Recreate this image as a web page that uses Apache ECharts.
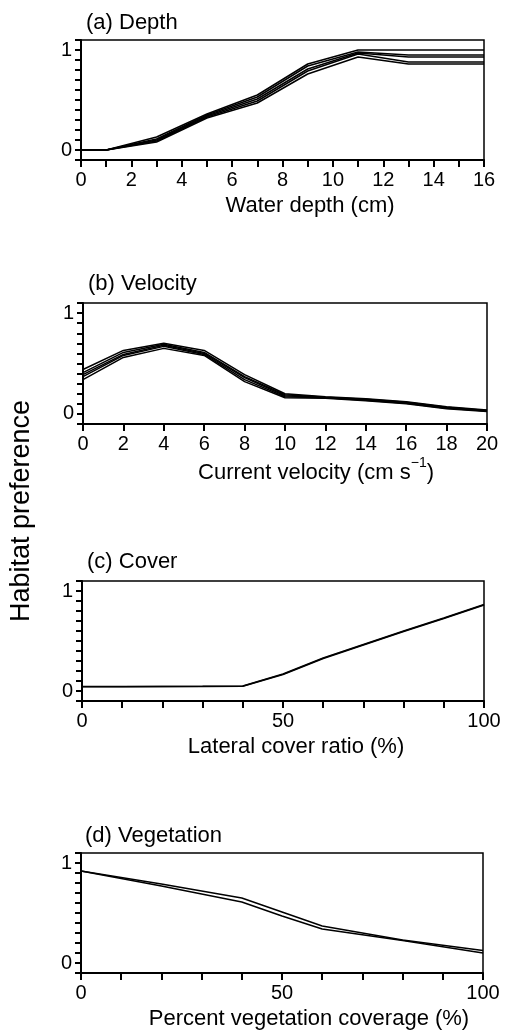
<!DOCTYPE html>
<html>
<head>
<meta charset="utf-8">
<script src="https://cdn.jsdelivr.net/npm/echarts@6/dist/echarts.min.js"></script>
<style>
html,body{margin:0;padding:0;background:#fff;}
#chart{width:505px;height:1032px;}
</style>
</head>
<body>
<div id="chart"></div>
<script>
// ---- Data ----
const depthX = [0, 1, 3, 5, 7, 9, 11, 13, 16];
const depthCurves = [
  [0, 0, 0.13, 0.36, 0.55, 0.86, 1.00, 1.00, 1.00],
  [0, 0, 0.11, 0.35, 0.53, 0.84, 0.98, 0.95, 0.95],
  [0, 0, 0.10, 0.34, 0.51, 0.81, 0.97, 0.93, 0.93],
  [0, 0, 0.09, 0.33, 0.49, 0.79, 0.96, 0.88, 0.88],
  [0, 0, 0.08, 0.32, 0.47, 0.76, 0.93, 0.86, 0.86]
];
const velocityX = [0, 2, 4, 6, 8, 10, 12, 14, 16, 18, 20];
const velocityCurves = [
  [0.44, 0.63, 0.70, 0.63, 0.39, 0.20, 0.17, 0.15, 0.12, 0.07, 0.040],
  [0.41, 0.61, 0.69, 0.61, 0.37, 0.19, 0.165, 0.145, 0.115, 0.065, 0.035],
  [0.39, 0.59, 0.68, 0.60, 0.36, 0.18, 0.16, 0.14, 0.11, 0.06, 0.030],
  [0.37, 0.58, 0.67, 0.59, 0.34, 0.17, 0.16, 0.135, 0.105, 0.055, 0.030],
  [0.34, 0.56, 0.65, 0.58, 0.32, 0.16, 0.155, 0.13, 0.10, 0.05, 0.025]
];
const coverX = [0, 10, 20, 30, 40, 50, 60, 70, 80, 90, 100];
const coverCurves = [
  [0.045, 0.045, 0.046, 0.047, 0.05, 0.17, 0.33, 0.465, 0.60, 0.73, 0.865],
  [0.043, 0.043, 0.044, 0.046, 0.048, 0.165, 0.325, 0.46, 0.595, 0.725, 0.86]
];
const vegX = [0, 20, 40, 50, 60, 80, 100];
const vegCurves = [
  [0.92, 0.79, 0.65, 0.51, 0.37, 0.23, 0.125],
  [0.92, 0.77, 0.61, 0.47, 0.34, 0.225, 0.10]
];
const panelTitles = ['(a) Depth', '(b) Velocity', '(c) Cover', '(d) Vegetation'];
const xNames = ['Water depth (cm)', 'Current velocity (cm s', 'Lateral cover ratio (%)', 'Percent vegetation coverage (%)'];
const yName = 'Habitat preference';

// ---- Chart ----
const FONT = 'Liberation Sans, Arial, Helvetica, sans-serif';
const chart = echarts.init(document.getElementById('chart'), null, {renderer: 'canvas'});

const grids = [
  {left: 81, top: 40, width: 403, height: 120},
  {left: 83, top: 303, width: 404, height: 121},
  {left: 82, top: 581, width: 402, height: 120},
  {left: 81, top: 853, width: 402, height: 120}
].map(g => Object.assign({show: true, borderColor: '#000', borderWidth: 1.5, backgroundColor: 'transparent'}, g));

const xSpecs = [
  {min: 0, max: 16, interval: 1, fmt: v => (Math.round(v) % 2 === 0 ? String(Math.round(v)) : '')},
  {min: 0, max: 20, interval: 2, fmt: v => String(Math.round(v))},
  {min: 0, max: 100, interval: 10, fmt: v => ([0, 50, 100].includes(Math.round(v)) ? String(Math.round(v)) : '')},
  {min: 0, max: 100, interval: 10, fmt: v => ([0, 50, 100].includes(Math.round(v)) ? String(Math.round(v)) : '')}
];

const xAxes = xSpecs.map((s, i) => ({
  type: 'value', gridIndex: i, min: s.min, max: s.max, interval: s.interval,
  axisLine: {show: true, onZero: false, lineStyle: {color: '#000', width: 2}},
  axisTick: {show: true, inside: false, length: 7, lineStyle: {color: '#000', width: 2}},
  axisLabel: {show: true, margin: 10, color: '#000', fontSize: 20, fontFamily: FONT, formatter: s.fmt},
  splitLine: {show: false}
}));

const yAxes = grids.map((g, i) => ({
  type: 'value', gridIndex: i, min: -0.1, max: 1.1, interval: 0.1,
  axisLine: {show: true, onZero: false, lineStyle: {color: '#000', width: 2}},
  axisTick: {show: true, inside: false, length: 6, lineStyle: {color: '#000', width: 2}},
  axisLabel: {show: true, margin: 9, color: '#000', fontSize: 20, fontFamily: FONT,
    formatter: v => (Math.abs(v) < 1e-6 ? '0' : (Math.abs(v - 1) < 1e-6 ? '1' : ''))},
  splitLine: {show: false}
}));

const series = [];
function addCurves(xs, curves, idx) {
  curves.forEach(ys => {
    series.push({
      type: 'line', xAxisIndex: idx, yAxisIndex: idx, symbol: 'none', silent: true,
      lineStyle: {color: '#000', width: 1.5},
      data: xs.map((x, k) => [x, ys[k]])
    });
  });
}
addCurves(depthX, depthCurves, 0);
addCurves(velocityX, velocityCurves, 1);
addCurves(coverX, coverCurves, 2);
addCurves(vegX, vegCurves, 3);

function txt(x, y, text, align, size, extra) {
  return Object.assign({
    type: 'text', x: x, y: y, silent: true,
    style: {text: text, x: 0, y: 0, fill: '#000', fontSize: size, fontFamily: FONT,
      textAlign: align, align: align, textVerticalAlign: 'middle', verticalAlign: 'middle'}
  }, extra || {});
}

const titlePos = [[86, 23], [88, 284], [87, 562], [85, 836]];
const namePos = [[310, 206], [316, 470], [296, 747], [309, 1019]];
const graphics = [];
panelTitles.forEach((t, i) => graphics.push(txt(titlePos[i][0], titlePos[i][1], t, 'left', 22)));
[0, 2, 3].forEach(i => graphics.push(txt(namePos[i][0], namePos[i][1], xNames[i], 'center', 22)));
graphics.push({
  type: 'text', x: namePos[1][0], y: namePos[1][1], silent: true,
  style: {
    text: '{a|' + xNames[1] + '}{b|\u22121}{a|)}',
    x: 0, y: 0, fill: '#000', fontFamily: FONT, fontSize: 22,
    textAlign: 'center', align: 'center', textVerticalAlign: 'middle', verticalAlign: 'middle',
    rich: {
      a: {fontSize: 22, fontFamily: FONT, lineHeight: 28, verticalAlign: 'bottom', fill: '#000', color: '#000'},
      b: {fontSize: 14, fontFamily: FONT, lineHeight: 28, verticalAlign: 'top', fill: '#000', color: '#000'}
    }
  }
});
graphics.push(txt(22, 511, yName, 'center', 27, {rotation: Math.PI / 2}));

chart.setOption({
  animation: false,
  backgroundColor: '#fff',
  grid: grids,
  xAxis: xAxes,
  yAxis: yAxes,
  series: series,
  graphic: {elements: graphics}
});
</script>
</body>
</html>
